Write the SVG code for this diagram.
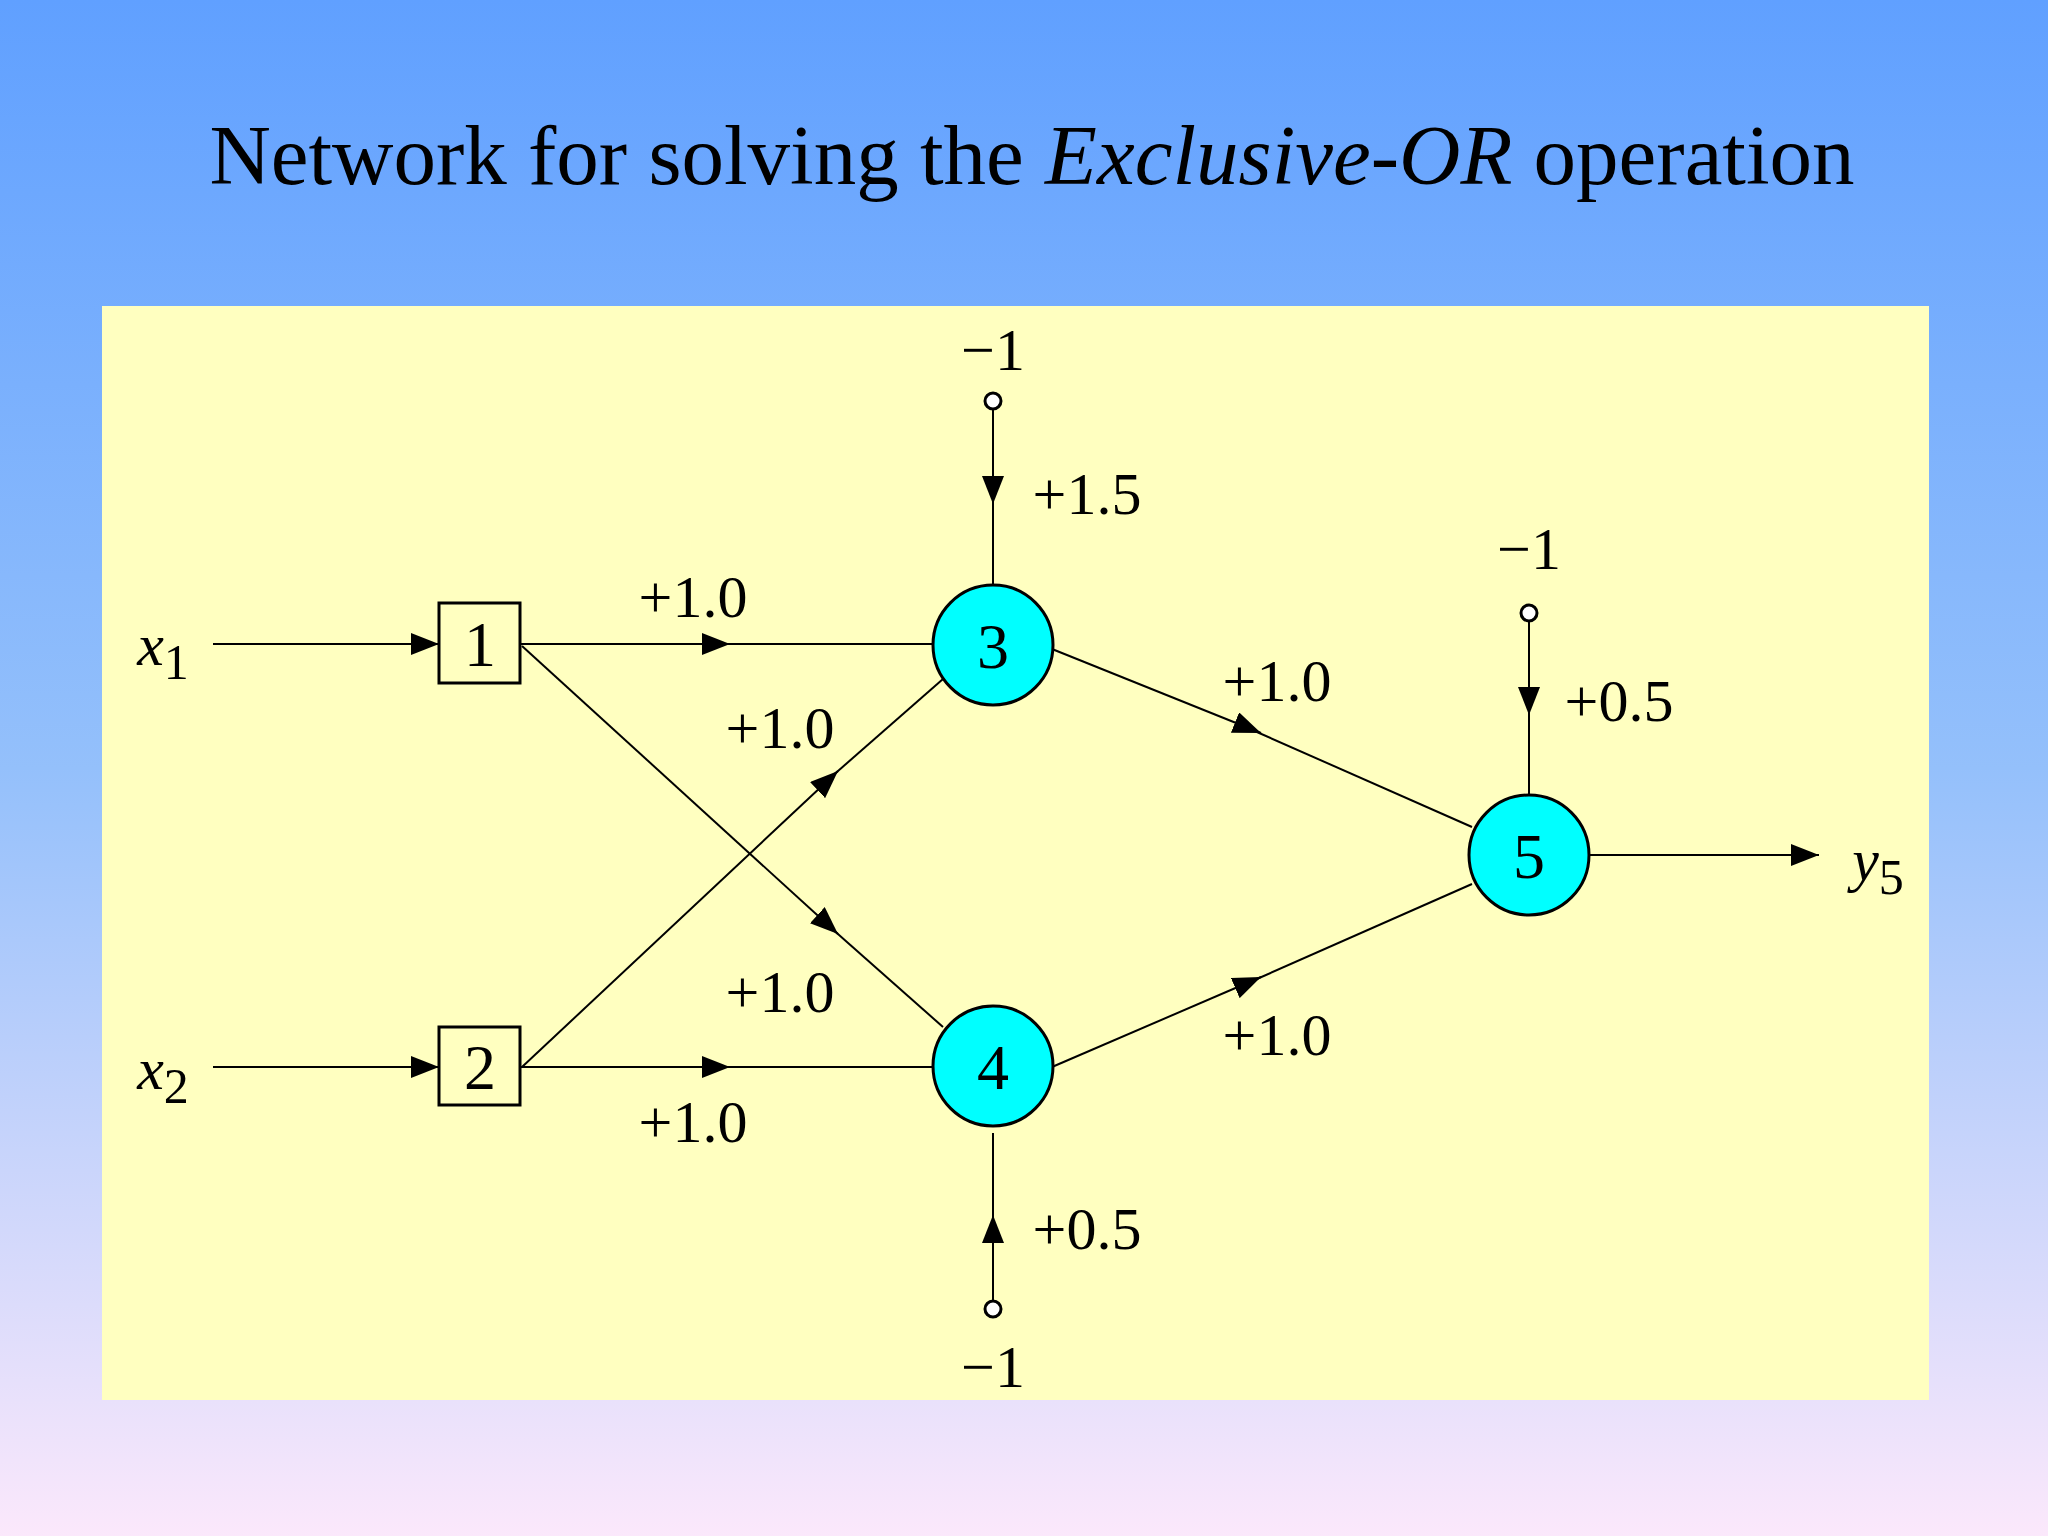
<svg xmlns="http://www.w3.org/2000/svg" width="2048" height="1536" viewBox="0 0 2048 1536">
<defs>
<linearGradient id="bg" x1="0" y1="0" x2="0" y2="1">
<stop offset="0" stop-color="#60a0ff"/><stop offset="0.5" stop-color="#94c0fb"/><stop offset="1" stop-color="#fbe8fb"/>
</linearGradient>
<marker id="ah" markerWidth="28" markerHeight="22" refX="28" refY="11" orient="auto" markerUnits="userSpaceOnUse">
<path d="M0,0 L28,11 L0,22 Z" fill="#000"/>
</marker>
<style>
text{font-family:"Liberation Serif","Times New Roman",serif;fill:#000;text-anchor:middle}
.l{font-size:60px}
.n{font-size:64px}
.e{stroke:#000;stroke-width:2;fill:none}
.c{fill:#00ffff;stroke:#000;stroke-width:3}
.b{fill:none;stroke:#000;stroke-width:3}
.o{fill:#fff;stroke:#000;stroke-width:3}
</style>
</defs>
<rect width="2048" height="1536" fill="url(#bg)"/>
<text x="1032" y="184" style="font-size:85px">Network for solving the <tspan font-style="italic">Exclusive-OR</tspan> operation</text>
<rect x="102" y="306" width="1827" height="1094" fill="#ffffc0"/>
<g id="connectors">
<line class="e" x1="213" y1="644" x2="439" y2="644" marker-end="url(#ah)"/>
<line class="e" x1="213" y1="1067" x2="439" y2="1067" marker-end="url(#ah)"/>
<line class="e" x1="520" y1="644" x2="730" y2="644" marker-end="url(#ah)"/><line class="e" x1="720" y1="644" x2="933" y2="644"/>
<line class="e" x1="520" y1="1067" x2="730" y2="1067" marker-end="url(#ah)"/><line class="e" x1="720" y1="1067" x2="933" y2="1067"/>
<line class="e" x1="522" y1="646" x2="838" y2="934" marker-end="url(#ah)"/><line class="e" x1="830" y1="927" x2="943" y2="1027"/>
<line class="e" x1="522" y1="1067" x2="838" y2="771" marker-end="url(#ah)"/><line class="e" x1="830" y1="778" x2="943" y2="679"/>
<line class="e" x1="1052" y1="649" x2="1261" y2="733" marker-end="url(#ah)"/><line class="e" x1="1250" y1="729" x2="1472" y2="827"/>
<line class="e" x1="1052" y1="1067" x2="1261" y2="977" marker-end="url(#ah)"/><line class="e" x1="1250" y1="982" x2="1472" y2="884"/>
<line class="e" x1="1589" y1="855" x2="1819" y2="855" marker-end="url(#ah)"/>
<line class="e" x1="993" y1="409" x2="993" y2="504" marker-end="url(#ah)"/><line class="e" x1="993" y1="500" x2="993" y2="585"/>
<line class="e" x1="1529" y1="621" x2="1529" y2="715" marker-end="url(#ah)"/><line class="e" x1="1529" y1="710" x2="1529" y2="795"/>
<line class="e" x1="993" y1="1301" x2="993" y2="1215" marker-end="url(#ah)"/><line class="e" x1="993" y1="1220" x2="993" y2="1133"/>
</g>
<g id="bias3"><circle class="o" cx="993" cy="401" r="8"/><text class="l" x="993" y="370">−1</text><text class="l" x="1087" y="514">+1.5</text></g>
<g id="bias5"><circle class="o" cx="1529" cy="613" r="8"/><text class="l" x="1529" y="569">−1</text><text class="l" x="1619" y="721">+0.5</text></g>
<g id="bias4"><circle class="o" cx="993" cy="1309" r="8"/><text class="l" x="993" y="1387">−1</text><text class="l" x="1087" y="1249">+0.5</text></g>
<g id="labels">
<text class="l" x="693" y="617">+1.0</text>
<text class="l" x="780" y="748">+1.0</text>
<text class="l" x="780" y="1012">+1.0</text>
<text class="l" x="693" y="1142">+1.0</text>
<text class="l" x="1277" y="701">+1.0</text>
<text class="l" x="1277" y="1055">+1.0</text>
</g>
<g id="x1"><text class="l" x="163" y="665" font-style="italic">x<tspan font-style="normal" dy="14" font-size="50">1</tspan></text></g>
<g id="x2"><text class="l" x="163" y="1089" font-style="italic">x<tspan font-style="normal" dy="14" font-size="50">2</tspan></text></g>
<g id="y5"><text class="l" x="1878" y="880" font-style="italic">y<tspan font-style="normal" dy="14" font-size="50">5</tspan></text></g>
<g id="n1"><rect class="b" x="439" y="603" width="81" height="80"/><text class="n" x="480" y="666">1</text></g>
<g id="n2"><rect class="b" x="439" y="1027" width="81" height="78"/><text class="n" x="480" y="1089">2</text></g>
<g id="n3"><circle class="c" cx="993" cy="645" r="60"/><text class="n" x="993" y="668">3</text></g>
<g id="n4"><circle class="c" cx="993" cy="1066" r="60"/><text class="n" x="993" y="1089">4</text></g>
<g id="n5"><circle class="c" cx="1529" cy="855" r="60"/><text class="n" x="1529" y="878">5</text></g>
</svg>
